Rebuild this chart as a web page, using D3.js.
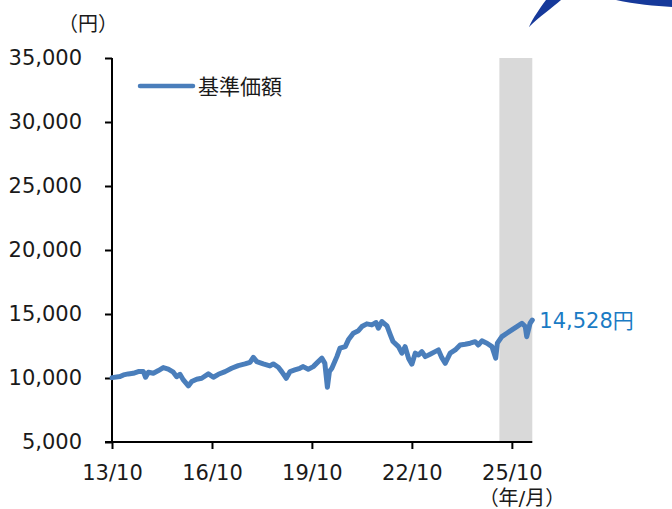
<!DOCTYPE html>
<html><head><meta charset="utf-8">
<script src="https://cdn.jsdelivr.net/npm/d3@7"></script>
<style>
html,body{margin:0;padding:0;background:#fff;}
svg{display:block;}
text{font-family:"DejaVu Sans",Verdana,"Noto Sans CJK JP",sans-serif;fill:#1a1a1a;}
</style></head>
<body>
<svg id="chart" width="672" height="509"></svg>
<script>
// ---- data ----
const dates = ["2013-10-01","2013-12-28","2014-02-04","2014-03-28","2014-05-22","2014-07-16","2014-09-10","2014-10-04","2014-11-04","2014-12-28",
"2015-02-22","2015-04-16","2015-06-10","2015-08-04","2015-09-10","2015-10-16","2015-11-22","2016-01-16","2016-02-22","2016-04-16",
"2016-06-10","2016-08-22","2016-10-16","2016-12-10","2017-02-22","2017-05-04","2017-07-16","2017-09-28","2017-11-22","2017-12-28",
"2018-02-04","2018-04-16","2018-06-28","2018-08-04","2018-09-28","2018-11-04","2018-12-24","2019-02-04","2019-03-28","2019-05-22",
"2019-06-28","2019-08-22","2019-10-16","2019-12-10","2020-01-19","2020-02-20","2020-03-19","2020-04-10","2020-05-07","2020-07-01",
"2020-08-04","2020-10-01","2020-11-04","2020-12-28","2021-02-22","2021-04-01","2021-05-25","2021-07-19","2021-09-04","2021-09-28",
"2021-11-07","2022-01-01","2022-02-07","2022-03-08","2022-05-07","2022-06-13","2022-07-19","2022-08-25","2022-10-01","2022-11-07",
"2022-12-13","2023-01-19","2023-02-25","2023-04-19","2023-06-13","2023-07-19","2023-08-25","2023-10-01","2023-11-25","2024-01-19",
"2024-03-13","2024-05-07","2024-07-01","2024-08-25","2024-09-28","2024-11-07","2025-01-01","2025-02-25","2025-04-07","2025-04-25",
"2025-06-13","2025-08-07","2025-10-01","2025-11-25","2026-01-19","2026-02-25","2026-03-13","2026-04-19","2026-05-13"];
const navValues = [10030,10110,10240,10320,10370,10500,10500,10060,10450,10370,
10580,10810,10690,10450,10100,10290,9850,9380,9720,9900,
9980,10320,10060,10290,10500,10760,10970,11100,11230,11620,
11280,11100,10940,11100,10840,10500,9980,10500,10630,10760,
10890,10690,10890,11280,11550,11150,9280,10500,10760,11670,
12330,12450,12980,13500,13700,14020,14230,14150,14330,13890,
14410,14070,13370,12850,12450,11940,12450,11550,11080,11940,
11800,12060,11670,11860,12060,12190,11590,11150,11940,12190,
12580,12640,12720,12840,12580,12900,12720,12450,11550,12720,
13230,13500,13760,14020,14280,14020,13230,14280,14528];
const yTicks = [5000,10000,15000,20000,25000,30000,35000];
const xTickDates = ["2013-10-01","2016-10-01","2019-10-01","2022-10-01","2025-10-01"];
const bandRange = ["2025-05-17","2026-05-13"];
const domainDates = ["2013-10-01","2026-05-13"];
const seriesName = "基準価額";
const lastLabel = "14,528円";
const yUnit = "（円）";
const xUnit = "（年/月）";

// ---- chart ----
const parse = d3.timeParse("%Y-%m-%d");
const data = dates.map((d,i)=>({date:parse(d), v:navValues[i]}));
const svg = d3.select("#chart");
const x = d3.scaleTime().domain(domainDates.map(parse)).range([112, 532.3]);
const y = d3.scaleLinear().domain([5000,35000]).range([442, 58]);

// decorative logo swoosh (top right)
svg.append("path").attr("d","M529,27 C533,18 540,8 546,0 L561,0 C552,8 540,16 529,27 Z").attr("fill","#16399a");
svg.append("path").attr("d","M616,0 L672,0 L672,7 C655,6 635,4 616,0 Z").attr("fill","#16399a");

// band
svg.append("rect")
  .attr("x", x(parse(bandRange[0])))
  .attr("y", y(35000))
  .attr("width", x(parse(bandRange[1])) - x(parse(bandRange[0])))
  .attr("height", y(5000) - y(35000))
  .attr("fill", "#d9d9d9");

// y axis
const yAxis = svg.append("g").attr("transform","translate(112,0)")
  .call(d3.axisLeft(y).tickValues(yTicks).tickFormat(d3.format(",")).tickSize(7).tickPadding(23));
yAxis.select(".domain").attr("stroke","#000").attr("stroke-width",2).attr("d","M0,58V442");
yAxis.selectAll(".tick line").attr("stroke","#000").attr("stroke-width",2);
yAxis.selectAll(".tick text").attr("font-size",21).attr("fill","#1a1a1a").attr("font-family","DejaVu Sans, sans-serif");

// x axis
const xAxis = svg.append("g").attr("transform","translate(0,442)")
  .call(d3.axisBottom(x).tickValues(xTickDates.map(parse)).tickFormat(d3.timeFormat("%y/%m")).tickSize(7).tickPadding(16));
xAxis.select(".domain").attr("stroke","#000").attr("stroke-width",2).attr("d","M105,0H532.3");
xAxis.selectAll(".tick line").attr("stroke","#000").attr("stroke-width",2);
xAxis.selectAll(".tick text").attr("font-size",21).attr("fill","#1a1a1a").attr("font-family","DejaVu Sans, sans-serif");

// line
const line = d3.line().x(d=>x(d.date)).y(d=>y(d.v)).curve(d3.curveLinear);
svg.append("path").datum(data).attr("d",line)
  .attr("fill","none").attr("stroke","#4a7ebb").attr("stroke-width",5)
  .attr("stroke-linejoin","round").attr("stroke-linecap","round");

// last value label
const last = data[data.length-1];
svg.append("text").attr("x", x(last.date)+7).attr("y", y(last.v)+8)
  .attr("font-size",21).style("fill","#1a7bc4").text(lastLabel);

// legend
svg.append("line").attr("x1",140).attr("x2",193).attr("y1",86).attr("y2",86)
  .attr("stroke","#4a7ebb").attr("stroke-width",4.5).attr("stroke-linecap","round");
svg.append("text").attr("x",198).attr("y",94).attr("font-size",21).text(seriesName);

// units
svg.append("text").attr("x",88).attr("y",31).attr("text-anchor","middle").attr("font-size",20).text(yUnit);
svg.append("text").attr("x",522).attr("y",505).attr("text-anchor","middle").attr("font-size",20).text(xUnit);
</script>
</body></html>
